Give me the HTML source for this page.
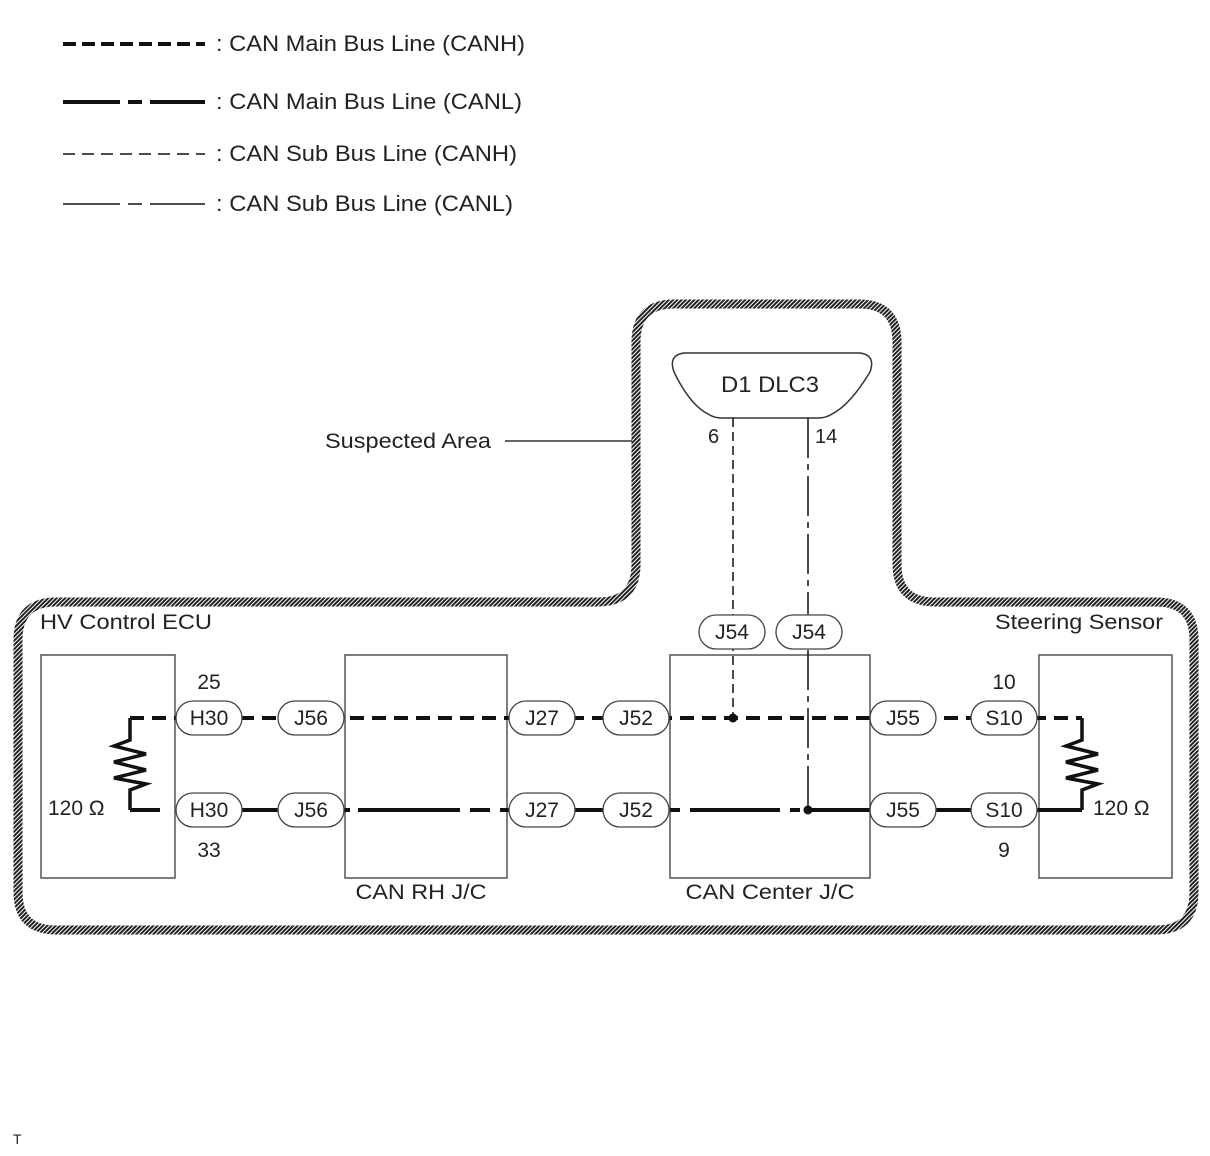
<!DOCTYPE html>
<html><head><meta charset="utf-8">
<style>
html,body{margin:0;padding:0;background:#fff;}
svg{display:block;}
text{font-family:"Liberation Sans",Arial,sans-serif;fill:#222;}
</style></head>
<body>
<svg width="1210" height="1156" viewBox="0 0 1210 1156" xmlns="http://www.w3.org/2000/svg">
<defs>
<pattern id="hatch" width="3" height="3" patternUnits="userSpaceOnUse" patternTransform="rotate(45)">
<rect width="3" height="3" fill="#fff"/>
<rect width="2" height="3" fill="#222"/>
</pattern>
</defs>

<!-- legend -->
<g stroke="#111">
<line x1="63" y1="44" x2="205" y2="44" stroke-width="4" stroke-dasharray="13,6"/>
<path d="M63 102H120 M128 102H142 M150 102H205" stroke-width="4"/>
<line x1="63" y1="154" x2="205" y2="154" stroke-width="1.5" stroke-dasharray="12,7"/>
<path d="M63 204H120 M128 204H142 M150 204H205" stroke-width="1.5"/>
</g>
<g font-size="22">
<text x="216" y="51" textLength="309" lengthAdjust="spacingAndGlyphs">: CAN Main Bus Line (CANH)</text>
<text x="216" y="109" textLength="306" lengthAdjust="spacingAndGlyphs">: CAN Main Bus Line (CANL)</text>
<text x="216" y="161" textLength="301" lengthAdjust="spacingAndGlyphs">: CAN Sub Bus Line (CANH)</text>
<text x="216" y="211" textLength="297" lengthAdjust="spacingAndGlyphs">: CAN Sub Bus Line (CANL)</text>
</g>

<!-- suspected area border -->
<path d="M18 640 Q18 602 56 602 L598 602 Q636 602 636 564 L636 342 Q636 304 674 304 L859 304 Q897 304 897 342 L897 564 Q897 602 935 602 L1156 602 Q1194 602 1194 640 L1194 892 Q1194 930 1156 930 L56 930 Q18 930 18 892 Z" fill="none" stroke="url(#hatch)" stroke-width="9"/>

<text x="325" y="448" font-size="21" textLength="166" lengthAdjust="spacingAndGlyphs">Suspected Area</text>
<line x1="505" y1="441" x2="632" y2="441" stroke="#333" stroke-width="1.5"/>

<!-- boxes -->
<g fill="none" stroke="#555" stroke-width="1.5">
<rect x="41" y="655" width="134" height="223"/>
<rect x="345" y="655" width="162" height="223"/>
<rect x="670" y="655" width="200" height="223"/>
<rect x="1039" y="655" width="133" height="223"/>
</g>

<!-- DLC3 -->
<path d="M684 353 L860 353 Q876 355 870 372 Q850 405 832 414 Q826 418 818 418 L722 418 Q714 418 708 414 Q690 405 674 372 Q668 355 684 353 Z" fill="#fff" stroke="#333" stroke-width="1.5"/>
<text x="770" y="392" font-size="22" text-anchor="middle" textLength="98" lengthAdjust="spacingAndGlyphs">D1 DLC3</text>
<text x="708" y="443" font-size="20">6</text>
<text x="815" y="443" font-size="20">14</text>

<!-- sub lines -->
<line x1="733" y1="418" x2="733" y2="718" stroke="#111" stroke-width="1.5" stroke-dasharray="9,5"/>
<line x1="808" y1="418" x2="808" y2="810" stroke="#111" stroke-width="1.5" stroke-dasharray="40,6,6,6"/>

<!-- CANH main -->
<g stroke="#111" stroke-width="4" fill="none">
<line x1="130" y1="718" x2="1082" y2="718" stroke-dasharray="14,8"/>
<path d="M130 810H160 M176 810H350 M358 810H460 M470 810H490 M500 810H660 M670 810H680 M690 810H780 M790 810H800 M810 810H1082"/>
<path d="M130 718V740 L114 746 L146 754 L114 762 L146 770 L114 778 L146 784 L130 790 V810" stroke-width="3.5"/>
<path d="M1082 718V740 L1066 746 L1098 754 L1066 762 L1098 770 L1066 778 L1098 784 L1082 790 V810" stroke-width="3.5"/>
</g>
<circle cx="733" cy="718" r="4.5" fill="#111"/>
<circle cx="808" cy="810" r="4.5" fill="#111"/>

<!-- connectors -->
<g fill="#fff" stroke="#444" stroke-width="1.3">
<rect x="176" y="701" width="66" height="34" rx="17"/>
<rect x="278" y="701" width="66" height="34" rx="17"/>
<rect x="509" y="701" width="66" height="34" rx="17"/>
<rect x="603" y="701" width="66" height="34" rx="17"/>
<rect x="870" y="701" width="66" height="34" rx="17"/>
<rect x="971" y="701" width="66" height="34" rx="17"/>
<rect x="176" y="793" width="66" height="34" rx="17"/>
<rect x="278" y="793" width="66" height="34" rx="17"/>
<rect x="509" y="793" width="66" height="34" rx="17"/>
<rect x="603" y="793" width="66" height="34" rx="17"/>
<rect x="870" y="793" width="66" height="34" rx="17"/>
<rect x="971" y="793" width="66" height="34" rx="17"/>
<rect x="699" y="615" width="66" height="34" rx="17"/>
<rect x="776" y="615" width="66" height="34" rx="17"/>
</g>
<g font-size="21" text-anchor="middle">
<text x="209" y="725">H30</text><text x="311" y="725">J56</text><text x="542" y="725">J27</text><text x="636" y="725">J52</text><text x="903" y="725">J55</text><text x="1004" y="725">S10</text>
<text x="209" y="817">H30</text><text x="311" y="817">J56</text><text x="542" y="817">J27</text><text x="636" y="817">J52</text><text x="903" y="817">J55</text><text x="1004" y="817">S10</text>
<text x="732" y="639">J54</text><text x="809" y="639">J54</text>
<text x="209" y="689">25</text><text x="209" y="857">33</text>
<text x="1004" y="689">10</text><text x="1004" y="857">9</text>
<text x="421" y="899" textLength="131" lengthAdjust="spacingAndGlyphs">CAN RH J/C</text>
<text x="770" y="899" textLength="169" lengthAdjust="spacingAndGlyphs">CAN Center J/C</text>
</g>
<g font-size="21">
<text x="40" y="629" textLength="172" lengthAdjust="spacingAndGlyphs">HV Control ECU</text>
<text x="995" y="629" textLength="168" lengthAdjust="spacingAndGlyphs">Steering Sensor</text>
<text x="48" y="815">120 Ω</text>
<text x="1093" y="815">120 Ω</text>
</g>
<text x="13" y="1144" font-size="14">T</text>
</svg>
</body></html>
